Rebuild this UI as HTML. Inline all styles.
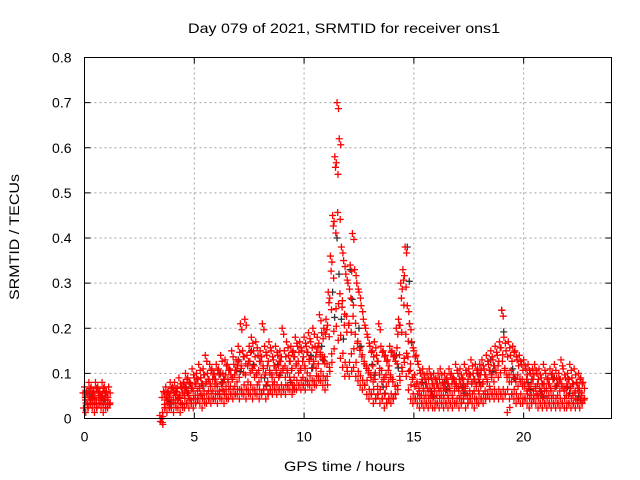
<!DOCTYPE html>
<html><head><meta charset="utf-8"><style>
html,body{margin:0;padding:0;background:#fff}
svg{display:block;font-family:"Liberation Sans",sans-serif}
</style></head><body>
<svg id="chart" width="640" height="480" viewBox="0 0 640 480" xmlns="http://www.w3.org/2000/svg">
<rect x="0" y="0" width="640" height="480" fill="#fff"/>
<g id="grid"></g>
<g id="dark"></g>
<g id="red"></g>
<rect x="84.5" y="57.5" width="527" height="361" fill="none" stroke="#000" stroke-width="1"/>
<g id="axes"></g>
<text x="188" y="33" font-size="14" textLength="312" lengthAdjust="spacingAndGlyphs">Day 079 of 2021, SRMTID for receiver ons1</text>
<text x="284" y="471" font-size="14" textLength="121" lengthAdjust="spacingAndGlyphs">GPS time / hours</text>
<text transform="translate(19,300) rotate(-90)" font-size="14" textLength="126" lengthAdjust="spacingAndGlyphs">SRMTID / TECUs</text>
</svg>
<script>
const xTicks=[0,5,10,15,20];
const yTicks=[0,0.1,0.2,0.3,0.4,0.5,0.6,0.7,0.8];
const yTickLabels=["0","0.1","0.2","0.3","0.4","0.5","0.6","0.7","0.8"];
const times=[0,0.1,0.2,0.3,0.4,0.5,0.6,0.7,0.8,0.9,1.0,1.1,
3.5,3.6,3.7,3.8,3.9,
4.0,4.1,4.2,4.3,4.4,4.5,4.6,4.7,4.8,4.9,
5.0,5.1,5.2,5.3,5.4,5.5,5.6,5.7,5.8,5.9,
6.0,6.1,6.2,6.3,6.4,6.5,6.6,6.7,6.8,6.9,
7.0,7.1,7.2,7.3,7.4,7.5,7.6,7.7,7.8,7.9,
8.0,8.1,8.2,8.3,8.4,8.5,8.6,8.7,8.8,8.9,
9.0,9.1,9.2,9.3,9.4,9.5,9.6,9.7,9.8,9.9,
10.0,10.1,10.2,10.3,10.4,10.5,10.6,10.7,10.8,10.9,
11.0,11.1,11.2,11.3,11.4,11.5,11.6,11.7,11.8,11.9,
12.0,12.1,12.2,12.3,12.4,12.5,12.6,12.7,12.8,12.9,
13.0,13.1,13.2,13.3,13.4,13.5,13.6,13.7,13.8,13.9,
14.0,14.1,14.2,14.3,14.4,14.5,14.6,14.7,14.8,14.9,
15.0,15.1,15.2,15.3,15.4,15.5,15.6,15.7,15.8,15.9,
16.0,16.1,16.2,16.3,16.4,16.5,16.6,16.7,16.8,16.9,
17.0,17.1,17.2,17.3,17.4,17.5,17.6,17.7,17.8,17.9,
18.0,18.1,18.2,18.3,18.4,18.5,18.6,18.7,18.8,18.9,
19.0,19.1,19.2,19.3,19.4,19.5,19.6,19.7,19.8,19.9,
20.0,20.1,20.2,20.3,20.4,20.5,20.6,20.7,20.8,20.9,
21.0,21.1,21.2,21.3,21.4,21.5,21.6,21.7,21.8,21.9,
22.0,22.1,22.2,22.3,22.4,22.5,22.6,22.7];
const redHigh=[.07,.06,.08,.07,.06,.08,.07,.06,.08,.07,.06,.07,
0.00,.06,.07,.06,.08,
.07,.08,.06,.09,.07,.08,.10,.09,.08,.11,
.09,.10,.12,.09,.11,.14,.10,.12,.11,.10,
.12,.11,.14,.10,.13,.12,.11,.15,.12,.13,
.16,.21,.15,.22,.14,.16,.18,.15,.17,.14,
.15,.21,.16,.14,.17,.15,.13,.16,.14,.15,
.20,.15,.17,.14,.16,.15,.18,.16,.17,.15,
.18,.16,.19,.17,.20,.16,.18,.23,.19,.20,
.22,.28,.36,.45,.58,.70,.62,.38,.35,.32,
.30,.34,.41,.33,.30,.28,.25,.22,.20,.18,
.16,.15,.17,.14,.21,.16,.15,.14,.13,.16,
.15,.14,.20,.22,.30,.33,.38,.25,.21,.17,
.15,.14,.12,.10,.11,.09,.10,.11,.09,.10,
.09,.10,.11,.08,.10,.09,.11,.10,.09,.12,
.10,.11,.09,.12,.10,.11,.13,.10,.12,.11,
.12,.13,.11,.14,.12,.15,.13,.16,.14,.17,
.24,.18,.15,.17,.14,.16,.15,.13,.14,.12,
.13,.11,.12,.10,.11,.12,.10,.11,.09,.12,
.10,.09,.11,.10,.12,.09,.10,.13,.11,.09,
.10,.12,.09,.11,.08,.10,.09,.08];
const redMid=[.05,.04,.05,.05,.04,.05,.06,.05,.04,.05,.05,.04,
0.00,.04,.05,.04,.05,
.05,.06,.05,.06,.04,.06,.07,.06,.05,.07,
.06,.07,.08,.06,.07,.09,.07,.08,.07,.08,
.08,.07,.09,.07,.08,.09,.08,.10,.08,.09,
.10,.12,.11,.13,.09,.11,.12,.10,.11,.09,
.10,.12,.11,.09,.11,.10,.09,.11,.10,.11,
.12,.10,.11,.10,.12,.10,.13,.11,.12,.10,
.12,.11,.14,.12,.13,.12,.13,.15,.14,.13,
.13,.19,.25,.32,.42,.55,.45,.27,.24,.20,
.22,.20,.26,.22,.18,.16,.15,.13,.12,.11,
.10,.09,.11,.08,.12,.09,.10,.08,.09,.10,
.09,.08,.13,.15,.20,.26,.30,.18,.13,.10,
.08,.09,.07,.06,.07,.06,.07,.06,.06,.07,
.06,.07,.06,.06,.07,.06,.07,.06,.07,.08,
.07,.06,.07,.08,.06,.07,.09,.07,.08,.07,
.08,.09,.07,.09,.08,.10,.09,.11,.10,.11,
.15,.12,.10,.09,.09,.10,.09,.08,.09,.08,
.08,.07,.08,.06,.07,.08,.06,.07,.06,.07,
.07,.06,.07,.06,.08,.06,.07,.08,.07,.06,
.06,.08,.06,.07,.05,.07,.06,.05];
const redLow=[.03,.02,.03,.04,.03,.02,.03,.04,.03,.02,.03,.03,
0.00,.02,.03,.02,.03,
.03,.02,.04,.03,.02,.04,.03,.04,.03,.04,
.03,.04,.05,.04,.03,.05,.04,.05,.04,.05,
.05,.04,.06,.05,.04,.06,.05,.06,.05,.06,
.06,.05,.07,.06,.05,.07,.06,.05,.07,.06,
.05,.06,.07,.05,.06,.07,.06,.07,.06,.07,
.06,.07,.06,.08,.07,.06,.08,.07,.08,.07,
.08,.07,.09,.08,.07,.09,.08,.10,.09,.08,
.07,.10,.12,.15,.20,.25,.18,.14,.12,.10,
.12,.10,.15,.12,.10,.09,.08,.07,.08,.06,
.05,.06,.04,.05,.06,.04,.05,.03,.04,.05,
.04,.05,.06,.08,.10,.12,.14,.10,.07,.05,
.04,.05,.04,.03,.04,.03,.04,.03,.04,.03,
.03,.04,.03,.04,.03,.04,.03,.04,.03,.04,
.04,.03,.04,.05,.03,.04,.05,.04,.03,.05,
.04,.05,.04,.05,.06,.05,.06,.05,.06,.05,
.06,.05,.06,.02,.05,.06,.05,.04,.05,.04,
.04,.05,.04,.03,.04,.05,.04,.03,.04,.03,
.04,.03,.04,.03,.04,.03,.04,.03,.04,.03,
.03,.04,.03,.04,.03,.04,.03,.04];
const darkTimes=[0.2,0.8,3.8,4.6,5.3,6.2,7.0,7.6,8.2,8.8,9.4,10.3,10.8,11.3,11.5,11.7,12.1,12.5,13.1,13.6,14.2,14.7,14.8,15.3,15.8,16.4,17.2,17.9,18.5,19.0,19.5,20.2,20.8,21.4,22.0,22.5];
const darkValues=[.06,.05,.04,.07,.09,.10,.13,.15,.09,.12,.08,.14,.16,.28,.40,.22,.33,.20,.12,.07,.14,.38,.21,.10,.06,.08,.07,.10,.13,.24,.11,.08,.06,.09,.07,.05];

const NS="http://www.w3.org/2000/svg";
const L=84.5,R=611.5,T=57.5,B=418.5,XMAX=24,YMAX=0.8;
const xs=v=>L+(R-L)*v/XMAX;
const ys=v=>B-(B-T)*v/YMAX;
function mk(tag,attrs,parent){const e=document.createElementNS(NS,tag);for(const k in attrs)e.setAttribute(k,attrs[k]);parent.appendChild(e);return e;}
const grid=document.getElementById('grid'),axes=document.getElementById('axes');
yTicks.forEach((v,i)=>{
  const y=ys(v);
  if(i>0&&i<yTicks.length-1){const g=mk('line',{x1:L,x2:R,y1:y,y2:y,stroke:'#a0a0a0','stroke-dasharray':'2,3'},grid);
  
  }
  const t1=mk('line',{x1:L,x2:L+6,y1:y,y2:y,stroke:'#000'},axes);
  
  
  mk('line',{x1:R-6,x2:R,y1:y,y2:y,stroke:'#000'},axes);
  const tx=mk('text',{x:L-13,y:y+5,'font-size':'14','text-anchor':'end'},axes);
  tx.textContent=yTickLabels[i];
  
  
});
xTicks.forEach(v=>{
  const x=xs(v);
  if(v>0){const g=mk('line',{x1:x,x2:x,y1:T,y2:B,stroke:'#a0a0a0','stroke-dasharray':'2,3'},grid);
  
  }
  const t1=mk('line',{x1:x,x2:x,y1:B-6,y2:B,stroke:'#000'},axes);
  
  
  mk('line',{x1:x,x2:x,y1:T,y2:T+6,stroke:'#000'},axes);
  const tx=mk('text',{x:x,y:B+23,'font-size':'14','text-anchor':'middle'},axes);
  tx.textContent=String(v);
  
  
});
function plus(t,v,parent,color,dx,dy){
  const x=xs(t)+dx,y=ys(v)+dy;
  const p=mk('path',{d:`M${x-3.5},${y}H${x+3.5}M${x},${y-3.5}V${y+3.5}`,stroke:color,'stroke-width':'1.3',fill:'none'},parent);
  
  
}
const dark=document.getElementById('dark'),red=document.getElementById('red');
darkTimes.forEach((t,i)=>{plus(t,darkValues[i],dark,'#333',0,0);plus(t,darkValues[i]*0.8,dark,'#333',2,0);});
times.forEach((t,i)=>{
  plus(t,redLow[i],red,'#f00',-1,3);
  plus(t,redLow[i],red,'#f00',1.5,-2);
  plus(t,redMid[i],red,'#f00',1,4);
  plus(t,redMid[i],red,'#f00',-1.5,-3);
  plus(t,redHigh[i],red,'#f00',0,0);
  plus(t,redHigh[i],red,'#f00',1.5,6);
});
</script>
</body></html>
